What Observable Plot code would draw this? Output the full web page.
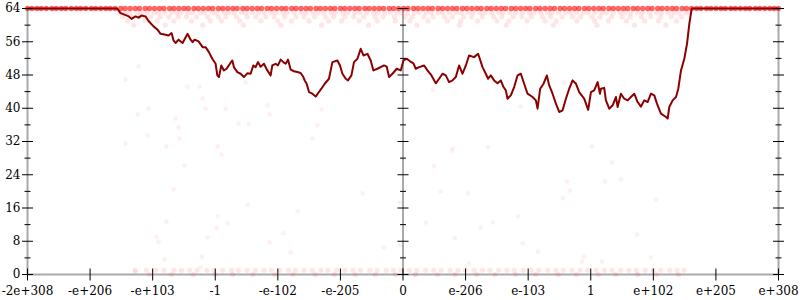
<!DOCTYPE html>
<html><head><meta charset="utf-8">
<script src="https://cdn.jsdelivr.net/npm/d3@7"></script>
<script src="https://cdn.jsdelivr.net/npm/@observablehq/plot@0.6"></script>
<style>body{margin:0;background:#fff}</style>
</head><body><div id="chart"></div>
<script>
// x positions are ordinal slots of the double range: -6 ... 6
const xTickPos = [-6,-5,-4,-3,-2,-1,0,1,2,3,4,5,6];
const xTickLabels = ["-2e+308","-e+206","-e+103","-1","-e-102","-e-205","0","e-206","e-103","1","e+102","e+205","e+308"];
const yTicks = [0,8,16,24,32,40,48,56,64];
const yMinorTicks = [4,12,20,28,36,44,52,60];
const axisSlots = [-6,0,6];

// moving average of bits of precision
const avgX = [-6.0,-4.567,-4.514,-4.461,-4.381,-4.338,-4.274,-4.226,-4.178,-4.114,-4.066,-3.986,-3.922,-3.874,-3.794,-3.746,-3.698,-3.666,-3.634,-3.586,-3.522,-3.442,-3.394,-3.362,-3.330,-3.266,-3.202,-3.154,-3.101,-3.047,-2.994,-2.967,-2.941,-2.903,-2.862,-2.818,-2.766,-2.727,-2.702,-2.647,-2.595,-2.542,-2.488,-2.435,-2.392,-2.355,-2.318,-2.275,-2.222,-2.168,-2.115,-2.088,-2.035,-1.998,-1.955,-1.912,-1.875,-1.838,-1.795,-1.742,-1.688,-1.635,-1.592,-1.571,-1.539,-1.502,-1.448,-1.395,-1.343,-1.304,-1.251,-1.183,-1.128,-1.048,-1.007,-0.968,-0.915,-0.879,-0.824,-0.783,-0.728,-0.676,-0.632,-0.568,-0.516,-0.473,-0.409,-0.303,-0.260,-0.223,-0.169,-0.100,-0.036,0.007,0.060,0.113,0.167,0.204,0.257,0.337,0.391,0.455,0.524,0.577,0.631,0.684,0.736,0.791,0.844,0.896,0.951,1.004,1.056,1.136,1.200,1.271,1.323,1.360,1.403,1.456,1.510,1.563,1.606,1.643,1.670,1.723,1.776,1.830,1.883,1.936,1.990,2.070,2.123,2.150,2.192,2.246,2.299,2.336,2.390,2.443,2.496,2.550,2.603,2.656,2.710,2.763,2.815,2.895,2.959,3.003,3.055,3.110,3.147,3.163,3.215,3.242,3.295,3.350,3.402,3.430,3.482,3.535,3.590,3.642,3.695,3.749,3.802,3.855,3.909,3.962,4.015,4.058,4.122,4.202,4.229,4.255,4.309,4.362,4.399,4.442,4.495,4.538,4.575,4.613,6.0];
const avgY = [64,64,62.9,62.6,62.1,61.5,62.1,61.8,62.3,62.1,61.0,59.7,58.9,57.9,57.7,57.5,58.1,56.3,55.7,56.5,55.7,57.9,56.5,55.9,56.5,56.1,54.7,54.7,53.5,51.9,50.7,47.9,47.5,50.3,49.1,49.5,50.7,51.5,49.9,48.7,48.3,47.5,48.4,48.3,50.3,49.9,51.1,50.0,50.7,49.1,47.9,50.3,50.7,50.3,51.7,51.1,50.7,51.7,49.3,48.9,48.7,48.5,47.5,46.7,45.9,43.9,43.5,42.8,43.9,44.7,45.9,47.1,51.1,51.5,50.3,48.3,47.1,46.7,47.9,51.1,51.9,54.3,52.7,53.1,51.5,49.1,49.5,50.3,50.0,47.5,48.3,49.5,49.1,51.5,51.9,51.3,50.8,49.5,49.9,50.3,49.1,47.9,46.0,47.1,48.3,47.9,46.3,46.7,47.5,50.3,48.3,50.3,52.7,52.3,53.1,49.9,48.3,47.1,47.9,46.7,46.0,46.7,45.1,44.3,42.3,43.1,45.1,47.9,48.3,45.9,43.5,42.7,41.9,39.9,44.7,45.9,47.9,45.5,43.5,41.1,39.1,39.5,42.3,44.7,46.7,45.9,43.9,42.3,39.6,43.9,44.3,46.3,43.5,44.7,44.9,41.9,39.9,40.7,42.7,40.3,43.5,42.3,41.9,42.7,43.5,41.5,40.4,41.9,41.5,43.5,43.1,41.1,38.7,37.9,37.5,40.3,41.9,42.7,44.7,49.1,51.9,55.5,60.3,64,64];

// individual samples (bits of precision), by value
const samples64 = [-6.00,-5.93,-5.85,-5.78,-5.70,-5.61,-5.54,-5.46,-5.39,-5.30,-5.22,-5.15,-5.07,-4.98,-4.91,-4.83,-4.75,-4.68,-4.60,-4.51,-4.44,-4.36,-4.28,-4.21,-4.12,-4.05,-3.97,-3.89,-3.82,-3.73,-3.66,-3.58,-3.50,-3.43,-3.34,-3.27,-3.19,-3.11,-3.04,-2.95,-2.88,-2.80,-2.72,-2.65,-2.56,-2.49,-2.41,-2.33,-2.26,-2.17,-2.10,-2.02,-1.94,-1.87,-1.78,-1.71,-1.63,-1.55,-1.48,-1.39,-1.32,-1.24,-1.16,-1.09,-1.00,-0.93,-0.85,-0.77,-0.70,-0.61,-0.54,-0.46,-0.38,-0.31,-0.22,-0.15,-0.07,0.01,0.08,0.17,0.24,0.32,0.40,0.47,0.56,0.63,0.71,0.79,0.86,0.95,1.02,1.10,1.18,1.25,1.34,1.41,1.49,1.57,1.64,1.73,1.80,1.88,1.96,2.03,2.12,2.19,2.27,2.35,2.42,2.51,2.58,2.66,2.74,2.81,2.90,2.97,3.05,3.13,3.20,3.29,3.36,3.44,3.52,3.59,3.68,3.75,3.83,3.91,3.98,4.07,4.14,4.22,4.30,4.37,4.46,4.53,4.61,4.69,4.76,4.85,4.92,5.00,5.08,5.15,5.24,5.31,5.39,5.47,5.54,5.63,5.70,5.78,5.86,5.93,6.00];
const samples63 = [-4.52,-4.44,-4.37,-4.25,-4.18,-4.09,-3.97,-3.90,-3.81,-3.70,-3.62,-3.55,-3.43,-3.36,-3.24,-3.17,-3.05,-2.98,-2.86,-2.79,-2.70,-2.58,-2.51,-2.40,-2.31,-2.22,-2.11,-2.03,-1.92,-1.85,-1.74,-1.63,-1.55,-1.44,-1.36,-1.27,-1.15,-1.08,-0.96,-0.88,-0.77,-0.69,-0.58,-0.47,-0.40,-0.29,-0.20,-0.09,-0.02,0.07,0.18,0.26,0.37,0.45,0.56,0.63,0.74,0.85,0.93,1.04,1.12,1.23,1.31,1.42,1.53,1.60,1.71,1.80,1.91,2.02,2.09,2.20,2.31,2.38,2.49,2.60,2.68,2.77,2.88,2.96,3.07,3.18,3.25,3.36,3.47,3.55,3.64,3.75,3.83,3.94,4.05,4.13,4.24,4.33,4.41,4.52,4.58];
const samples62 = [-4.48,-4.33,-4.21,-4.03,-3.88,-3.74,-3.59,-3.46,-3.30,-3.12,-2.95,-2.83,-2.66,-2.49,-2.35,-2.19,-2.06,-1.89,-1.71,-1.58,-1.41,-1.24,-1.11,-0.93,-0.79,-0.63,-0.45,-0.32,-0.14,0.03,0.15,0.33,0.48,0.66,0.79,0.97,1.10,1.27,1.45,1.58,1.76,1.90,2.05,2.23,2.36,2.54,2.71,2.84,3.02,3.15,3.33,3.50,3.63,3.81,3.96,4.12,4.29,4.45];
const samples61 = [-4.40,-4.12,-3.93,-3.66,-3.38,-3.08,-2.90,-2.61,-2.27,-2.00,-1.78,-1.50,-1.19,-0.98,-0.70,-0.41,-0.12,0.11,0.40,0.71,0.92,1.19,1.50,1.69,1.98,2.27,2.45,2.78,3.06,3.28,3.57,3.86,4.08,4.37];
const samples60 = [-4.30,-3.80,-3.20,-2.55,-1.95,-1.30,-0.55,0.22,0.90,1.65,2.40,3.10,3.70,4.20];
const samples1 = [-4.28,-4.10,-3.95,-3.82,-3.66,-3.54,-3.41,-3.29,-3.13,-3.02,-2.88,-2.74,-2.63,-2.49,-2.36,-2.22,-2.10,-1.97,-1.83,-1.72,-1.58,-1.45,-1.31,-1.20,-1.06,-0.93,-0.80,-0.68,-0.53,-0.41,-0.27,-0.15,-0.03,0.10,0.22,0.36,0.49,0.61,0.75,0.88,1.00,1.14,1.27,1.39,1.53,1.66,1.78,1.92,2.05,2.17,2.31,2.44,2.56,2.70,2.83,2.95,3.09,3.22,3.34,3.48,3.61,3.73,3.87,4.00,4.12,4.26,4.38,4.49];
const samples0 = [-4.05,-3.70,-3.35,-3.00,-2.72,-2.40,-2.05,-1.76,-1.40,-1.10,-0.76,-0.45,-0.12,0.20,0.55,0.83,1.18,1.47,1.80,2.12,2.48,2.77,3.12,3.40,3.75,4.05,4.40];
const scatterX = [-4.226,-4.434,-3.442,-3.250,-3.202,-3.154,-2.834,-4.066,-4.242,-3.634,-3.586,-2.627,-2.467,-2.163,-2.131,-2.515,-1.303,-1.367,-1.447,-4.082,-4.434,-3.778,-3.570,-2.962,-2.898,-3.490,-3.666,-3.778,-3.938,-3.906,-3.810,-3.218,-3.122,-2.962,-2.978,-2.802,-2.482,-2.131,-1.907,-1.795,-1.683,-0.644,-0.308,-0.052,-0.052,-4.274,-3.234,0.780,0.492,3.338,2.619,3.226,3.482,0.604,1.036,2.667,2.555,4.043,0.364,1.435,1.243,1.835,0.828,3.738,1.915,2.155,1.052,2.891,2.859,3.179,3.962,2.571,0.476,1.883,0.796,1.356,3.018];
const scatterY = [50.0,46.9,45.2,45.2,42.3,39.9,39.9,39.9,38.5,37.5,35.4,36.3,36.3,40.7,38.5,46.2,39.7,35.9,32.7,33.4,31.5,30.8,32.7,30.8,28.9,26.2,20.5,12.7,9.1,7.9,3.6,4.3,8.9,14.0,11.1,12.3,16.8,7.7,9.9,5.3,15.2,19.5,6.5,17.3,7.0,0.7,1.7,29.8,26.0,26.9,22.4,22.4,22.9,20.0,19.5,20.2,18.3,18.0,12.5,12.5,11.3,14.0,8.7,9.6,7.5,5.5,2.6,4.3,3.1,3.1,4.1,46.2,44.5,40.4,30.3,30.6,30.8];

// tables built from the arrays
const avgTable = avgX.map((x, i) => ({x, y: avgY[i]}));
const exactTable = samples64.map(x => ({x, y: 64}));
const bandTable = [
  ...samples63.map(x => ({x, y: 63})),
  ...samples62.map(x => ({x, y: 62})),
  ...samples61.map(x => ({x, y: 61})),
  ...samples60.map(x => ({x, y: 60})),
  ...samples1.map(x => ({x, y: 1})),
  ...samples0.map(x => ({x, y: 0}))
];
const scatterTable = scatterX.map((x, i) => ({x, y: scatterY[i]}));
const yTickMarks = axisSlots.flatMap(x => yTicks.map(y => ({x, y})));
const yMinorMarks = axisSlots.flatMap(x => yMinorTicks.map(y => ({x, y})));

const hDash = {draw(ctx, size) { const h = Math.sqrt(size / Math.PI); ctx.moveTo(-h, 0); ctx.lineTo(h, 0); }};
const vDash = {draw(ctx, size) { const h = Math.sqrt(size / Math.PI); ctx.moveTo(0, -h); ctx.lineTo(0, h); }};

const chart = Plot.plot({
  width: 800, height: 300,
  marginLeft: 27, marginRight: 22, marginTop: 8, marginBottom: 26,
  x: {domain: [-6, 6], label: null},
  y: {domain: [0, 64], label: null},
  style: {fontFamily: "DejaVu Serif", fontSize: "12px", color: "#000", background: "#fff"},
  marks: [
    Plot.ruleX(axisSlots, {stroke: "#aaa", strokeWidth: 2}),
    Plot.ruleY([0], {stroke: "#aaa", strokeWidth: 2}),
    Plot.dot(scatterTable, {x: "x", y: "y", r: 2.4, fill: "red", fillOpacity: 0.06, stroke: "none"}),
    Plot.dot(bandTable, {x: "x", y: "y", r: 2.6, fill: "red", fillOpacity: 0.1, stroke: "none"}),
    Plot.dot(exactTable, {x: "x", y: "y", r: 2.7, fill: "red", fillOpacity: 0.6, stroke: "none"}),
    Plot.line(avgTable, {x: "x", y: "y", stroke: "darkred", strokeWidth: 2, curve: "linear"}),
    Plot.dot(yTickMarks, {x: "x", y: "y", symbol: hDash, r: 5.5, stroke: "#000", fill: "none", strokeWidth: 1}),
    Plot.dot(yMinorMarks, {x: "x", y: "y", symbol: hDash, r: 3, stroke: "#000", fill: "none", strokeWidth: 1}),
    Plot.dot(xTickPos, {x: d => d, y: 0, symbol: vDash, r: 6, stroke: "#000", fill: "none", strokeWidth: 1}),
    Plot.axisY(yTicks, {tickSize: 0, tickPadding: 7, fontSize: 12, label: null}),
    Plot.axisX(xTickPos, {tickSize: 0, tickPadding: 12, fontSize: 12, label: null, tickFormat: d => xTickLabels[xTickPos.indexOf(d)]})
  ]
});
document.getElementById("chart").appendChild(chart);
</script></body></html>
